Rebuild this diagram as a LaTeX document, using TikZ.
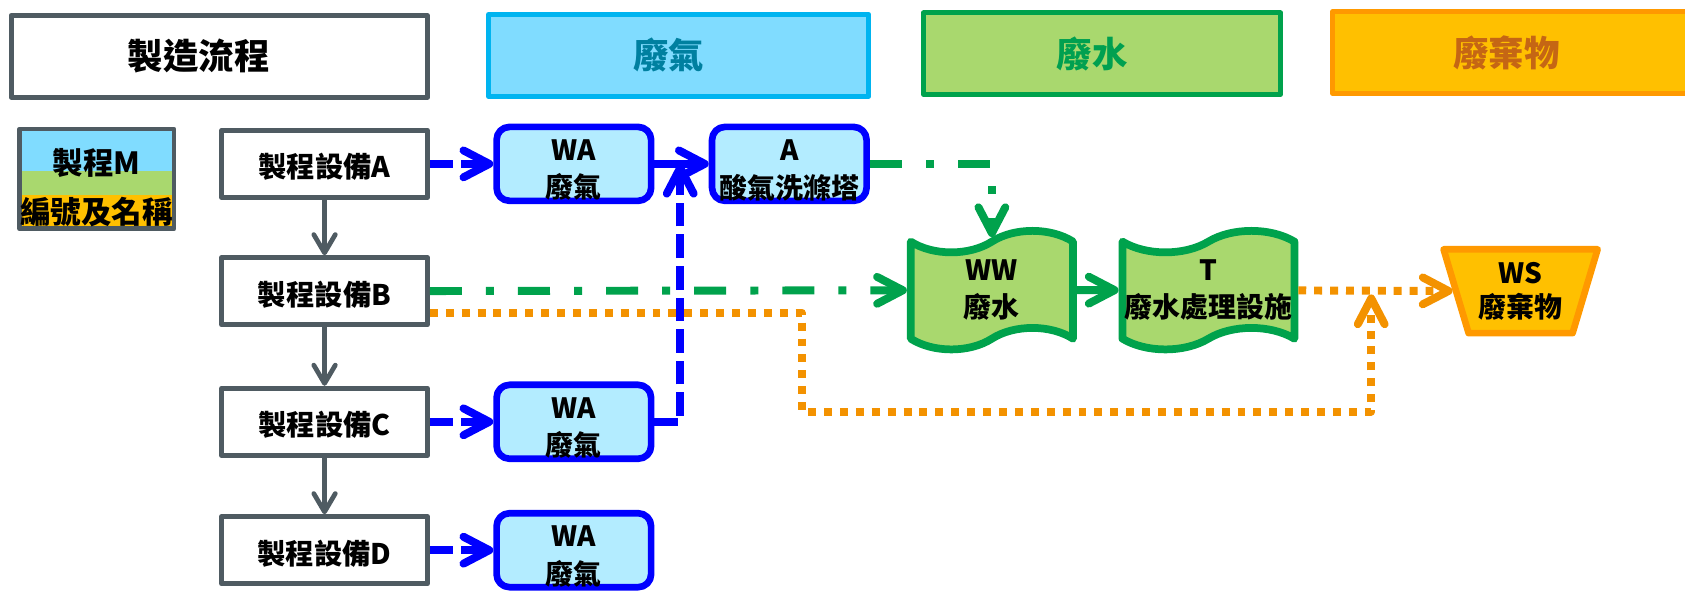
\documentclass[tikz,border=0pt]{standalone}
\usepackage{fontspec}
\setmainfont{Noto Sans CJK TC}
\usepackage{tikz}
\usetikzlibrary{arrows.meta,shapes.geometric,shapes.symbols,positioning}

\definecolor{cGray}{RGB}{79,91,98}
\definecolor{cBlue}{RGB}{0,0,255}
\definecolor{cBlueFill}{RGB}{179,236,255}
\definecolor{cSky}{RGB}{128,220,255}
\definecolor{cSkyLine}{RGB}{0,180,240}
\definecolor{cSkyText}{RGB}{0,128,160}
\definecolor{cLeaf}{RGB}{169,216,110}
\definecolor{cLeafLine}{RGB}{0,162,76}
\definecolor{cLeafText}{RGB}{0,160,80}
\definecolor{cAmber}{RGB}{255,192,0}
\definecolor{cAmberLine}{RGB}{255,153,0}
\definecolor{cAmberText}{RGB}{197,102,20}
\definecolor{cOrange}{RGB}{243,146,0}

\begin{document}
\begin{tikzpicture}[x=0.5pt, y=-0.5pt, line join=round,
                    hdr/.style={draw, line width=2.3pt, minimum height=38pt},
                    every label/.style={font=\fontsize{16.5}{20}\selectfont\bfseries}]
   \useasboundingbox (0,0) rectangle (1568,550);
   \node (h1) [hdr, draw=cGray, minimum width=193.7pt, label={[xshift=-9.5pt]center:製造流程}] at (204,52.5) {};
   \node (h2) [hdr, draw=cSkyLine, fill=cSky, minimum width=177pt, label={[xshift=-4.5pt, text=cSkyText]center:廢氣}] at (631.5,51.5) {};
   \node (h3) [hdr, draw=cLeafLine, fill=cLeaf, minimum width=166pt, label={[xshift=-4.5pt, text=cLeafText]center:廢水}] at (1025.5,50) {};
   \node (h4) [hdr, draw=cAmberLine, fill=cAmber, minimum width=180pt, label={[xshift=-9pt, text=cAmberText]center:廢棄物}] at (1420,49) {};
   \fill[cSky] (18,120) rectangle (162,159);
   \fill[cLeaf] (18,159) rectangle (162,181);
   \fill[cAmber] (18,181) rectangle (162,213);
   \begin{scope}[every node/.style={font=\fontsize{14.2}{17}\selectfont\bfseries}]
    \node (leg) [draw=cGray, line width=2.2pt, minimum width=71.9pt, minimum height=46.4pt] at (90,166.5) {};
    \node (legA) at (90,152) {製程M};
    \node (legB) at (90,197) {編號及名稱};
   \end{scope}
   \begin{scope}[every node/.style={draw=cGray, fill=white, line width=2.2pt, minimum width=95.8pt, minimum height=31.3pt, text height=14.5pt, font=\fontsize{13.2}{16}\selectfont\bfseries}]
    \node (e1) at (302,152.5) {製程設備A};
    \node (e2) at (302,271) {製程設備B};
    \node (e3) at (302,392.5) {製程設備C};
    \node (e4) at (302,512) {製程設備D};
   \end{scope}
   \begin{scope}[every node/.style={draw=cBlue, fill=cBlueFill, line width=3.1pt, rounded corners=6pt, minimum width=71.9pt, minimum height=34.4pt, inner ysep=0pt, text height=33pt, align=center, font=\fontsize{13}{17.5}\selectfont\bfseries}]
    \node (g1) at (534,152.5) {WA\\廢氣};
    \node (sc) at (734.5,152.5) {A\\酸氣洗滌塔};
    \node (g2) at (534,392.5) {WA\\廢氣};
    \node (g3) at (534,512) {WA\\廢氣};
   \end{scope}
   \begin{scope}[every node/.style={tape, draw=cLeafLine, fill=cLeaf, line width=3.6pt, tape bend height=10pt, minimum width=75.5pt, minimum height=43pt, inner xsep=1pt, align=center, font=\fontsize{13}{17.5}\selectfont\bfseries}]
    \node (ww) at (923,270) {WW\\廢水};
    \node (tr) at (1124.5,270) {T\\廢水處理設施};
   \end{scope}
   \node (ws) [trapezium, trapezium angle=71, shape border rotate=180, trapezium stretches=true,
               draw=cAmberLine, fill=cAmber, line width=3.1pt, minimum width=72pt, minimum height=39pt,
               inner sep=1pt, align=center, font=\fontsize{13}{15.5}\selectfont\bfseries] at (1415,271) {WS\\廢棄物};
   \coordinate (j1) at (633,152.5);
   \coordinate (j2) at (1276,274);
   \coordinate (bend) at (746,383);
   \begin{scope}[->, >={Straight Barb[length=8.5pt,width=10pt,round]}, every edge/.style={draw=cGray, line width=2.2pt}]
    \draw (e1) edge (e2);
    \draw (e2) edge (e3);
    \draw (e3) edge (e4);
   \end{scope}
   \begin{scope}[->, >={Straight Barb[length=12pt,width=12.5pt,round]}, color=cBlue, line width=3.7pt, dash pattern=on 11pt off 3.7pt]
    \draw (e1) -- (g1);
    \draw (e3) -- (g2);
    \draw (e4) -- (g3);
    \draw (g2) -| (j1);
    \draw[solid] (g1) -- (sc);
   \end{scope}
   \begin{scope}[->, >={Straight Barb[length=12pt,width=12.5pt,round]}, color=cLeafLine, line width=3.7pt, dash pattern=on 14.9pt off 11.2pt on 3.7pt off 11.2pt]
    \draw (sc) -| (ww);
    \draw (e2) -- (ww);
    \draw[solid] (ww) -- (tr);
   \end{scope}
   \begin{scope}[->, >={Straight Barb[length=12pt,width=12.5pt,round]}, color=cOrange, line width=3.7pt, dash pattern=on 3.7pt off 3.7pt]
    \draw (tr) -- (ws);
    \draw ([yshift=-10pt]e2.east) -| (bend) -| (j2);
   \end{scope}
\end{tikzpicture}
\end{document}
